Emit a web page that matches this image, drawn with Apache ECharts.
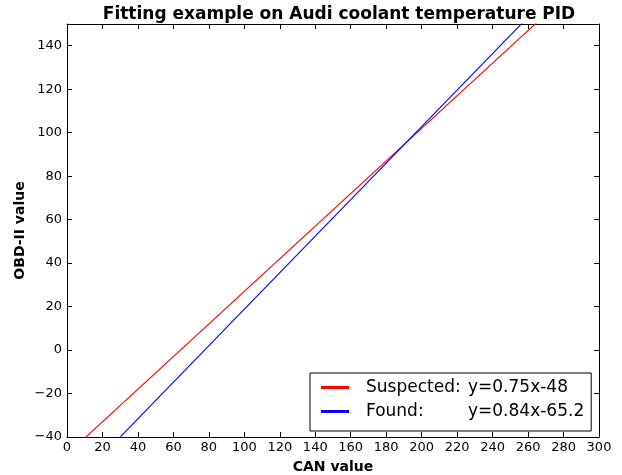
<!DOCTYPE html>
<html><head><meta charset="utf-8">
<script src="https://cdn.jsdelivr.net/npm/echarts@6/dist/echarts.min.js"></script>
<style>html,body{margin:0;padding:0;background:#fff}#c{width:622px;height:475px}</style>
</head><body><div id="c"></div>
<script>
const titleText = 'Fitting example on Audi coolant temperature PID';
const xName = 'CAN value';
const yName = 'OBD-II value';
const seriesNames = ['Suspected:', 'Found:'];
const seriesFormulas = ['y=0.75x-48', 'y=0.84x-65.2'];
const seriesColors = ['#ff0000', '#0000ff'];
const suspectedPoints = [[0, -48], [300, 177]];
const foundPoints = [[0, -65.2], [300, 186.8]];
const xMin = 0, xMax = 300, xStep = 20;
const yMin = -40, yMax = 150, yStep = 20;

const FONT = 'DejaVu Sans';
const minus = v => String(v).replace('-', '\u2212');
const tickCommon = {inside: true, length: 5, lineStyle: {color: '#000'}};
const axisLine = {show: true, onZero: false, lineStyle: {color: '#000', width: 1}};

const chart = echarts.init(document.getElementById('c'), null, {renderer: 'canvas'});
chart.setOption({
  animation: false,
  backgroundColor: '#fff',
  title: {text: titleText, left: 334, textAlign: 'center', top: 1,
    textStyle: {fontFamily: FONT, fontSize: 17, fontWeight: 'bold', color: '#000'}},
  grid: {left: 67, right: 23, top: 24, bottom: 38, containLabel: false, outerBoundsMode: 'none'},
  legend: {
    data: seriesNames, orient: 'vertical', left: 310, top: 373,
    padding: [6, 7, 11, 11], itemGap: 7,
    borderColor: '#000', borderWidth: 1, backgroundColor: '#fff',
    icon: 'rect', itemWidth: 28, itemHeight: 3,
    textStyle: {fontFamily: FONT, fontSize: 17, color: '#000',
      rich: {a: {fontFamily: FONT, fontSize: 17, width: 102, padding: [0,0,0,12]},
             b: {fontFamily: FONT, fontSize: 17, width: 117}}},
    formatter: name => '{a|' + name + '}{b|' + seriesFormulas[seriesNames.indexOf(name)] + '}'
  },
  xAxis: [
    {type: 'value', min: xMin, max: xMax, interval: xStep, position: 'bottom',
     name: xName, nameLocation: 'middle', nameGap: 23,
     nameTextStyle: {fontFamily: FONT, fontSize: 14, fontWeight: 'bold', color: '#000'},
     axisLine, axisTick: tickCommon, splitLine: {show: false},
     axisLabel: {fontFamily: FONT, fontSize: 13, color: '#000', margin: 4, formatter: minus}},
    {type: 'value', min: xMin, max: xMax, interval: xStep, position: 'top',
     axisLine, axisTick: tickCommon, splitLine: {show: false}, axisLabel: {show: false}}
  ],
  yAxis: [
    {type: 'value', min: yMin, max: yMax, interval: yStep, position: 'left',
     name: yName, nameLocation: 'middle', nameGap: 40, nameRotate: 90, nameMoveOverlap: false,
     nameTextStyle: {fontFamily: FONT, fontSize: 14, fontWeight: 'bold', color: '#000'},
     axisLine, axisTick: tickCommon, splitLine: {show: false},
     axisLabel: {fontFamily: FONT, fontSize: 13, color: '#000', margin: 5, formatter: minus,
       showMaxLabel: false}},
    {type: 'value', min: yMin, max: yMax, interval: yStep, position: 'right',
     axisLine, axisTick: tickCommon, splitLine: {show: false}, axisLabel: {show: false}}
  ],
  series: [
    {name: seriesNames[0], type: 'line', data: suspectedPoints, showSymbol: false, symbol: 'none',
     clip: true, lineStyle: {color: seriesColors[0], width: 1.1}, itemStyle: {color: seriesColors[0]}, z: 3},
    {name: seriesNames[1], type: 'line', data: foundPoints, showSymbol: false, symbol: 'none',
     clip: true, lineStyle: {color: seriesColors[1], width: 1.1}, itemStyle: {color: seriesColors[1]}, z: 3}
  ]
});
</script></body></html>
